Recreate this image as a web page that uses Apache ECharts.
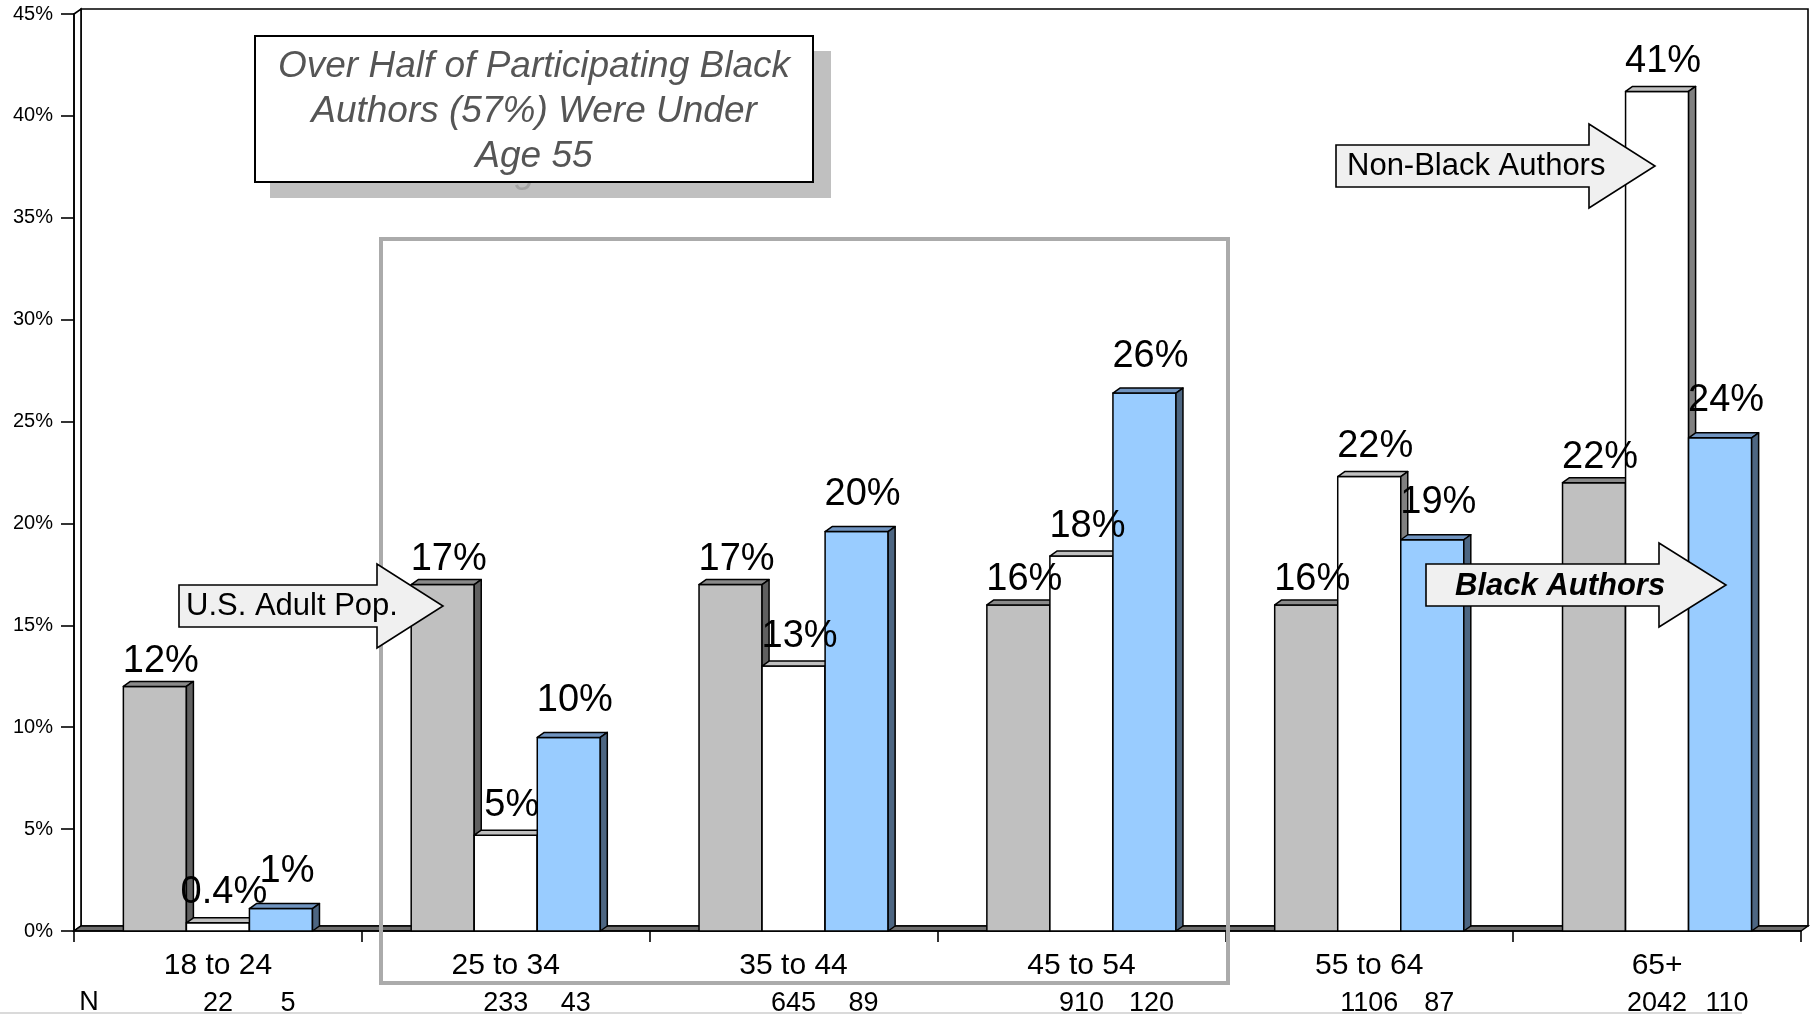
<!DOCTYPE html>
<html>
<head>
<meta charset="utf-8">
<script src="https://cdn.jsdelivr.net/npm/echarts@6/dist/echarts.min.js"></script>
<style>
  html, body { margin: 0; padding: 0; background: #ffffff; }
  #chart { width: 1814px; height: 1014px; }
</style>
</head>
<body>
<div id="chart"></div>
<script>
// Age groups and shares (%) for each population
const categories = ['18 to 24', '25 to 34', '35 to 44', '45 to 54', '55 to 64', '65+'];
const usAdultPop = [12, 17, 17, 16, 16, 22];
const nonBlackAuthors = [0.4, 4.7, 13.0, 18.4, 22.3, 41.2];
const blackAuthors = [1.1, 9.5, 19.6, 26.4, 19.2, 24.2];
// Respondent counts per age group
const nonBlackN = [22, 233, 645, 910, 1106, 2042];
const blackN = [5, 43, 89, 120, 87, 110];

const FONT = '"Liberation Sans", Arial, Helvetica, sans-serif';

// plot frame
const GRID = { left: 74, right: 13, top: 14, bottom: 83 };
const W = 1814, H = 1014;
const L = GRID.left, R = W - GRID.right, T = GRID.top, B = H - GRID.bottom;
const DX = 7, DY = 5;          // depth of the pseudo-3D extrusion
const BAR_FRAC = 0.219;        // bar width as a share of the category band
const OVERLAY_Z = 20;

function pct(v) {
  return v < 1 ? v.toFixed(1) + '%' : Math.round(v) + '%';
}

function txt(text, x, y, font, fill, align, vAlign, z2, z) {
  const el = {
    type: 'text', z2: z2 || 0,
    style: {
      text: text, x: x, y: y, font: font, fill: fill || '#000',
      align: align || 'center', textAlign: align || 'center',
      verticalAlign: vAlign || 'middle', textVerticalAlign: vAlign || 'middle'
    }
  };
  if (z !== undefined) el.z = z;
  return el;
}

// draws one extruded column: front face, top face, right side, value label and optional N
function columnRenderer(slot, colors, labelGap, nOffset) {
  return function (params, api) {
    const i = api.value(0);
    const v = api.value(1);
    const base = api.coord([i, 0]);
    const top = api.coord([i, v]);
    const band = api.size([1, 0])[0];
    const w = band * BAR_FRAC;
    const x0 = base[0] - 1.5 * w + slot * w;
    const x1 = x0 + w;
    const yT = top[1], yB = base[1];
    const edge = { stroke: '#000', lineWidth: 1.5, lineJoin: 'round' };
    const children = [
      { type: 'rect', shape: { x: x0, y: yT, width: w, height: yB - yT },
        style: Object.assign({ fill: colors.front }, edge) },
      { type: 'polygon', shape: { points: [[x0, yT], [x0 + DX, yT - DY], [x1 + DX, yT - DY], [x1, yT]] },
        style: Object.assign({ fill: colors.top }, edge) },
      { type: 'polygon', shape: { points: [[x1, yT], [x1 + DX, yT - DY], [x1 + DX, yB - DY], [x1, yB]] },
        style: Object.assign({ fill: colors.side }, edge) },
      txt(pct(v), x0 + w / 2 + 6, yT - labelGap, '38px ' + FONT, '#000', 'center', 'middle', 100)
    ];
    if (nOffset !== null) {
      const n = api.value(2);
      children.push(txt(String(n), x0 + w / 2 + nOffset, yB + 73, '27px ' + FONT, '#000', 'center', 'middle', 100));
    }
    return { type: 'group', children: children };
  };
}

function arrow(pts, label, textX, textY, font) {
  return {
    type: 'group',
    children: [
      { type: 'polygon', z: OVERLAY_Z, silent: true, shape: { points: pts },
        style: { fill: '#f0f0f0', stroke: '#000', lineWidth: 1.6, lineJoin: 'miter' } },
      txt(label, textX, textY, font, '#000', 'left', 'middle', 1, OVERLAY_Z)
    ]
  };
}

const titleLines = ['Over Half of Participating Black', 'Authors (57%) Were Under', 'Age 55'];
const titleFont = 'italic 37px ' + FONT;
const titleCx = 534, titleYs = [67, 112, 157];

const chart = echarts.init(document.getElementById('chart'), null, { renderer: 'canvas' });

chart.setOption({
  backgroundColor: '#ffffff',
  animation: false,
  grid: { left: GRID.left, right: GRID.right, top: GRID.top, bottom: GRID.bottom, containLabel: false },
  xAxis: {
    type: 'category',
    data: categories,
    boundaryGap: true,
    axisLine: { show: true, lineStyle: { color: '#000', width: 1.6 } },
    axisTick: { show: true, length: 11, inside: false, lineStyle: { color: '#000', width: 1.6 } },
    axisLabel: { fontFamily: FONT, fontSize: 30, color: '#000', margin: 20, lineHeight: 30 },
    splitLine: { show: false }
  },
  yAxis: {
    type: 'value',
    min: 0, max: 45, interval: 5,
    axisLine: { show: true, lineStyle: { color: '#000', width: 1.6 } },
    axisTick: { show: true, length: 13, inside: false, lineStyle: { color: '#000', width: 1.6 } },
    axisLabel: { fontFamily: FONT, fontSize: 20, color: '#000', margin: 21, formatter: '{value}%' },
    splitLine: { show: false }
  },
  series: [
    {
      name: 'U.S. Adult Pop.',
      type: 'custom',
      encode: { x: 0, y: 1 },
      data: usAdultPop.map((v, i) => [i, v]),
      renderItem: columnRenderer(0, { front: '#c0c0c0', top: '#8a8a8a', side: '#606060' }, 25, null)
    },
    {
      name: 'Non-Black Authors',
      type: 'custom',
      encode: { x: 0, y: 1 },
      data: nonBlackAuthors.map((v, i) => [i, v, nonBlackN[i]]),
      renderItem: columnRenderer(1, { front: '#ffffff', top: '#c0c0c0', side: '#808080' }, 30, 0)
    },
    {
      name: 'Black Authors',
      type: 'custom',
      encode: { x: 0, y: 1 },
      data: blackAuthors.map((v, i) => [i, v, blackN[i]]),
      renderItem: columnRenderer(2, { front: '#99ccff', top: '#7094c0', side: '#4d6682' }, 37, 7)
    }
  ],
  graphic: [
    // walls and floor of the plot box
    { type: 'rect', z: -1, silent: true, shape: { x: L + DX, y: T - DY, width: R - L, height: B - T },
      style: { fill: '#ffffff', stroke: '#000', lineWidth: 1.6 } },
    { type: 'polygon', z: -1, silent: true, shape: { points: [[L, T], [L + DX, T - DY], [L + DX, B - DY], [L, B]] },
      style: { fill: '#ffffff', stroke: '#000', lineWidth: 1.6 } },
    { type: 'polygon', z: -1, silent: true, shape: { points: [[L, B], [L + DX, B - DY], [R + DX, B - DY], [R, B]] },
      style: { fill: '#707070', stroke: '#000', lineWidth: 1.4 } },
    // highlighted age span
    { type: 'rect', z: 15, silent: true, shape: { x: 381, y: 239, width: 847, height: 744 },
      style: { fill: 'none', stroke: '#ababab', lineWidth: 4 } },
    // callout box with drop shadow
    {
      type: 'group',
      children: [
        { type: 'rect', z: OVERLAY_Z, z2: 0, silent: true, shape: { x: 270, y: 51, width: 561, height: 147 }, style: { fill: '#c0c0c0' } },
        txt(titleLines[2], titleCx + 15, titleYs[2] + 15, titleFont, '#a4a4a4', 'center', 'middle', 1, OVERLAY_Z),
        { type: 'rect', z: OVERLAY_Z, z2: 2, silent: true, shape: { x: 255, y: 36, width: 558, height: 146 },
          style: { fill: '#ffffff', stroke: '#000', lineWidth: 2 } },
        txt(titleLines[0], titleCx, titleYs[0], titleFont, '#555555', 'center', 'middle', 3, OVERLAY_Z),
        txt(titleLines[1], titleCx, titleYs[1], titleFont, '#555555', 'center', 'middle', 3, OVERLAY_Z),
        txt(titleLines[2], titleCx, titleYs[2], titleFont, '#555555', 'center', 'middle', 3, OVERLAY_Z)
      ]
    },
    arrow([[179, 585], [377, 585], [377, 564], [443, 606], [377, 648], [377, 627], [179, 627]],
      'U.S. Adult Pop.', 186, 606, '31px ' + FONT),
    arrow([[1336, 145], [1589, 145], [1589, 124], [1655, 166], [1589, 208], [1589, 187], [1336, 187]],
      'Non-Black Authors', 1347, 166, '31px ' + FONT),
    arrow([[1426, 564], [1659, 564], [1659, 543], [1726, 585], [1659, 627], [1659, 606], [1426, 606]],
      'Black Authors', 1455, 586, 'italic bold 31px ' + FONT),
    // row header for the counts
    txt('N', 89, 1003, '27px ' + FONT, '#000', 'center', 'middle', 0, OVERLAY_Z),
    { type: 'line', z: OVERLAY_Z, silent: true, shape: { x1: 0, y1: 1013, x2: 1742, y2: 1013 },
      style: { stroke: '#dadada', lineWidth: 2 } }
  ]
});
</script>
</body>
</html>
